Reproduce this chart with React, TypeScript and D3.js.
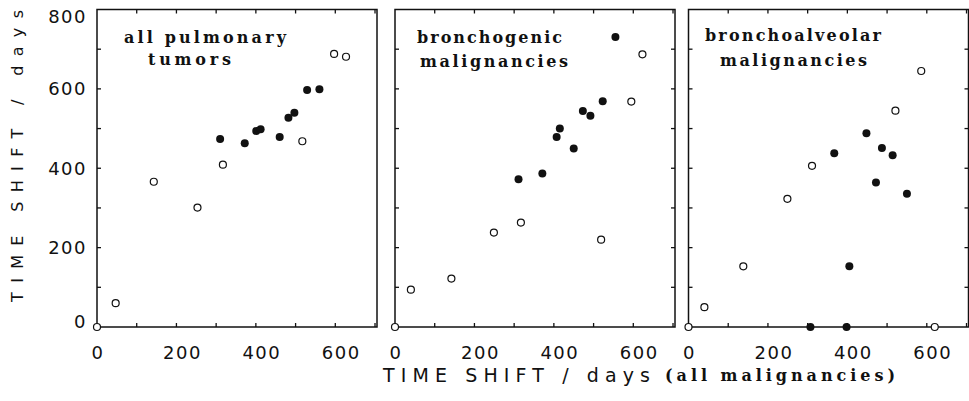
import React from "react";
import * as d3 from "d3";

// ---- data (x = time shift all malignancies, y = time shift panel group) ----
const panelTitles: string[][] = [
  ["all pulmonary", "tumors"],
  ["bronchogenic", "malignancies"],
  ["bronchoalveolar", "malignancies"],
];

const allOpenX = [0, 47, 143, 253, 317, 517, 597, 627];
const allOpenY = [0, 60, 366, 301, 409, 468, 688, 681];
const allFilledX = [310, 372, 401, 412, 460, 482, 497, 529, 560];
const allFilledY = [474, 463, 494, 498, 479, 527, 540, 597, 599];

const bronchoOpenX = [0, 40, 142, 249, 317, 519, 595, 623];
const bronchoOpenY = [0, 94, 122, 238, 263, 220, 568, 687];
const bronchoFilledX = [311, 371, 407, 415, 450, 473, 492, 523, 555];
const bronchoFilledY = [372, 387, 479, 500, 450, 544, 532, 569, 731];

const alveoOpenX = [0, 40, 138, 249, 311, 521, 586, 620];
const alveoOpenY = [0, 50, 153, 323, 406, 545, 645, 0];
const alveoFilledX = [307, 398, 367, 405, 448, 487, 514, 472, 550];
const alveoFilledY = [0, 0, 438, 153, 488, 451, 433, 364, 336];

const xTickLabels = [0, 200, 400, 600];
const yTickLabels = [0, 200, 400, 600, 800];
const xMinorTicks = [100, 200, 300, 400, 500, 600, 700];
const yMinorTicks = [100, 200, 300, 400, 500, 600, 700];

const openSeries = [
  [allOpenX, allOpenY],
  [bronchoOpenX, bronchoOpenY],
  [alveoOpenX, alveoOpenY],
];
const filledSeries = [
  [allFilledX, allFilledY],
  [bronchoFilledX, bronchoFilledY],
  [alveoFilledX, alveoFilledY],
];

// ---- layout ----
const W = 969;
const H = 401;
const panelLeft = [97, 395, 688.5];
const panelWidth = 280;
const xMax = 705;
const yTop = 9.5;
const yBottom = 327;
const titlePos = [
  [
    { x: 124, y: 43, len: 162 },
    { x: 148, y: 65, len: 83 },
  ],
  [
    { x: 417, y: 43, len: 145 },
    { x: 420, y: 67, len: 148 },
  ],
  [
    { x: 705, y: 41, len: 176 },
    { x: 720, y: 66, len: 147 },
  ],
];
const tickLen = 4;

export default function App() {
  const y = d3.scaleLinear().domain([0, 800]).range([yBottom, yTop]);
  const serif = "'DejaVu Serif', 'Liberation Serif', serif";
  const sans = "'DejaVu Sans', 'Liberation Sans', sans-serif";

  return (
    <div style={{ position: "absolute", left: 0, top: 0, width: W, height: H }}>
      <svg width={W} height={H} style={{ display: "block", background: "#fff" }}>
        {/* y axis labels */}
        {yTickLabels.map((v) => {
          const cy = Math.min(Math.max(y(v), 16), 321);
          return (
            <text
              key={"yl" + v}
              x={87}
              y={cy + 6.5}
              textAnchor="end"
              fontFamily={sans}
              fontSize={18}
              letterSpacing={1.5}
              fill="#111"
            >
              {v}
            </text>
          );
        })}
        <text
          transform="translate(23,156) rotate(-90)"
          textAnchor="middle"
          fontFamily={sans}
          fontSize={16}
          textLength={292}
          lengthAdjust="spacing"
          fill="#111"
        >
          TIME SHIFT / days
        </text>

        {panelLeft.map((left, pi) => {
          const x = d3
            .scaleLinear()
            .domain([0, xMax])
            .range([left, left + panelWidth]);
          const right = left + panelWidth;
          return (
            <g key={"p" + pi}>
              <rect
                x={left}
                y={yTop}
                width={panelWidth}
                height={yBottom - yTop}
                fill="none"
                stroke="#111"
                strokeWidth={1.5}
              />
              {xMinorTicks.map((t) => (
                <g key={"xt" + t}>
                  <line x1={x(t)} x2={x(t)} y1={yBottom} y2={yBottom - tickLen} stroke="#111" strokeWidth={1.3} />
                  <line x1={x(t)} x2={x(t)} y1={yTop} y2={yTop + tickLen} stroke="#111" strokeWidth={1.3} />
                </g>
              ))}
              {yMinorTicks.map((t) => (
                <g key={"yt" + t}>
                  <line x1={left} x2={left + tickLen} y1={y(t)} y2={y(t)} stroke="#111" strokeWidth={1.3} />
                  {pi > 0 && (
                    <line x1={right} x2={right - tickLen} y1={y(t)} y2={y(t)} stroke="#111" strokeWidth={1.3} />
                  )}
                </g>
              ))}
              {xTickLabels.map((v) => (
                <text
                  key={"xl" + v}
                  x={x(v) + (v === 0 ? 1 : 6)}
                  y={359}
                  textAnchor="middle"
                  fontFamily={sans}
                  fontSize={18}
                  letterSpacing={1.5}
                  fill="#111"
                >
                  {v}
                </text>
              ))}
              {panelTitles[pi].map((line, li) => (
                <text
                  key={"t" + li}
                  x={titlePos[pi][li].x}
                  y={titlePos[pi][li].y}
                  fontFamily={serif}
                  fontWeight="bold"
                  fontSize={16}
                  textLength={titlePos[pi][li].len}
                  lengthAdjust="spacing"
                  fill="#111"
                >
                  {line}
                </text>
              ))}
              {filledSeries[pi][0].map((vx, i) => (
                <circle key={"f" + i} cx={x(vx)} cy={y(filledSeries[pi][1][i])} r={4} fill="#111" />
              ))}
              {openSeries[pi][0].map((vx, i) => (
                <circle
                  key={"o" + i}
                  cx={x(vx)}
                  cy={y(openSeries[pi][1][i])}
                  r={3.5}
                  fill="#fff"
                  stroke="#111"
                  strokeWidth={1.2}
                />
              ))}
            </g>
          );
        })}

        <text x={383} y={382} fontFamily={sans} fontSize={19} textLength={267} lengthAdjust="spacing" fill="#111">
          TIME SHIFT / days
        </text>
        <text
          x={665}
          y={381}
          fontFamily={serif}
          fontWeight="bold"
          fontSize={16}
          textLength={230}
          lengthAdjust="spacing"
          fill="#111"
        >
          (all malignancies)
        </text>
      </svg>
    </div>
  );
}
